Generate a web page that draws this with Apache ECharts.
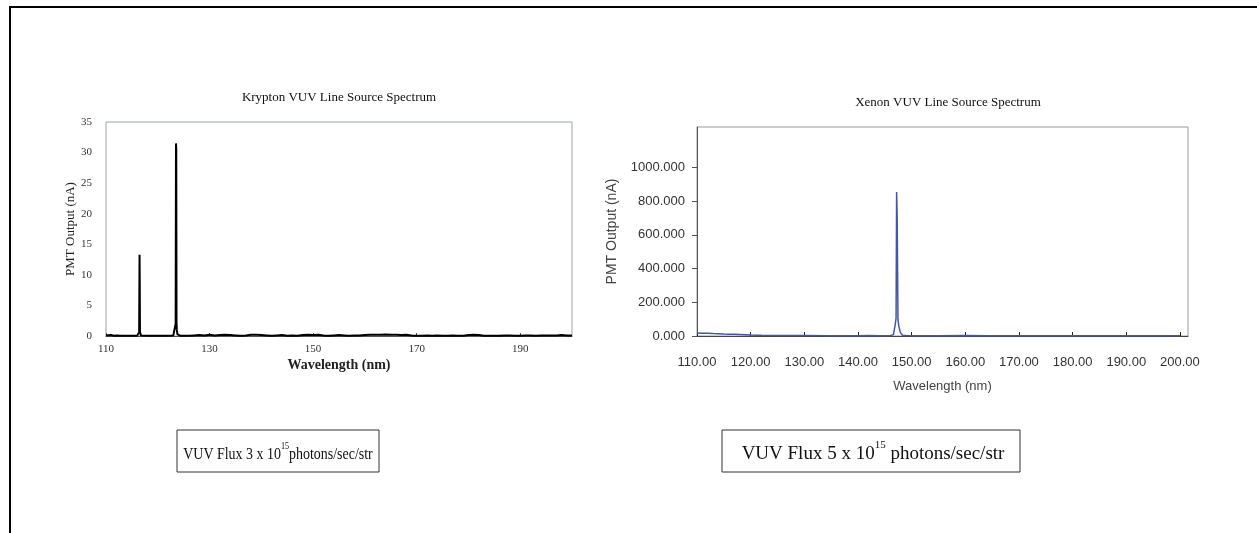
<!DOCTYPE html>
<html>
<head>
<meta charset="utf-8">
<script src="https://cdn.jsdelivr.net/npm/echarts@6/dist/echarts.min.js"></script>
<style>html,body{margin:0;padding:0;background:#fff}#c{width:1257px;height:533px}</style>
</head>
<body>
<div id="c"></div>
<script>
// Krypton spectrum (nm, nA)
const krWavelength = [110,111,111.5,112,113,114,115,116,116.3,116.4,116.48,116.52,116.56,116.62,116.75,117,118,119,120,121,122,123,123.35,123.45,123.52,123.57,123.62,123.68,123.78,123.95,124.3,125,126,127,128,129,130,131,132,133,134,135,136,137,138,139,140,141,142,143,144,145,146,147,148,149,150,151,152,153,154,155,156,157,158,159,160,161,162,163,164,165,166,167,168,169,170,171,172,173,174,175,176,177,178,179,180,181,182,183,184,185,186,187,188,189,190,191,192,193,194,195,196,197,198,199,200];
const krValues     = [0.1,0.15,0.05,0.1,0.05,0.05,0.05,0.05,0.2,0.6,13.3,8.5,0.7,0.4,0.1,0.05,0.05,0.05,0.05,0.05,0.05,0.1,0.3,2.0,31.5,30.5,2.2,1.0,0.3,0.1,0.05,0.05,0.05,0.1,0.15,0.1,0.2,0.1,0.15,0.2,0.15,0.1,0.05,0.1,0.2,0.2,0.15,0.1,0.05,0.1,0.15,0.05,0.1,0.05,0.15,0.2,0.15,0.2,0.1,0.05,0.1,0.15,0.1,0.05,0.1,0.1,0.15,0.2,0.2,0.2,0.25,0.2,0.2,0.15,0.2,0.1,0.05,0.05,0.1,0.05,0.1,0.05,0.05,0.1,0.05,0.05,0.15,0.2,0.15,0.05,0.05,0.05,0.05,0.1,0.1,0.05,0.05,0.1,0.1,0.05,0.1,0.1,0.1,0.1,0.15,0.1,0.1];
// Xenon spectrum (nm, nA)
const xeWavelength = [110,111,112,113,114,115,116,117,118,119,120,121,122,125,130,135,140,142,144,146,146.6,146.9,147.1,147.2,147.3,147.45,147.6,147.9,148.3,149,150,155,160,165,170,175,180,185,190,195,200];
const xeValues     = [18,17,17,15,14,12,11,10,9,8,6,5,4,3,3,2,2,3,2,2,8,60,106,854,716,100,60,20,5,3,2,2,3,2,2,2,2,2,2,2,2];
const krTicksX = [110,130,150,170,190];
const xeTicksX = [110,120,130,140,150,160,170,180,190,200];
const xeTicksY = [0,200,400,600,800,1000];

const krData = krWavelength.map((w,i)=>[w,krValues[i]]);
const xeData = xeWavelength.map((w,i)=>[w,xeValues[i]]);

const serif = "'Liberation Serif','DejaVu Serif',serif";
const sans = "'Liberation Sans',Arial,sans-serif";

const chart = echarts.init(document.getElementById('c'), null, {renderer:'canvas'});
chart.setOption({
  animation:false,
  backgroundColor:'#fff',
  title:[
    {text:'Krypton VUV Line Source Spectrum', left:334, top:86, textAlign:'center',
     textStyle:{fontFamily:serif, fontSize:13, fontWeight:'normal', color:'#111'}},
    {text:'Xenon VUV Line Source Spectrum', left:943, top:91, textAlign:'center',
     textStyle:{fontFamily:serif, fontSize:13, fontWeight:'normal', color:'#111'}}
  ],
  grid:[
    {left:106, top:122, width:466, height:214, show:true, borderColor:'#9aa4ae', borderWidth:1, containLabel:false},
    {left:697, top:127, width:491, height:209, show:true, borderColor:'#9a9a9a', borderWidth:1, containLabel:false}
  ],
  xAxis:[
    {type:'value', gridIndex:0, min:110, max:200,
     name:'Wavelength (nm)', nameLocation:'middle', nameGap:22,
     nameTextStyle:{fontFamily:serif, fontSize:14, fontWeight:'bold', color:'#222'},
     axisLine:{show:true, lineStyle:{color:'#555', width:1}},
     axisTick:{show:true, inside:true, length:3, customValues:krTicksX, lineStyle:{color:'#555'}},
     axisLabel:{customValues:krTicksX, fontFamily:serif, fontSize:11, color:'#333', margin:8},
     splitLine:{show:false}},
    {type:'value', gridIndex:1, min:110, max:201.5,
     name:'Wavelength (nm)', nameLocation:'middle', nameGap:44,
     nameTextStyle:{fontFamily:sans, fontSize:13, color:'#444'},
     axisLine:{show:true, lineStyle:{color:'#444', width:1}},
     axisTick:{show:true, inside:true, length:4, customValues:xeTicksX, lineStyle:{color:'#222'}},
     axisLabel:{customValues:xeTicksX, fontFamily:sans, fontSize:13, color:'#333', margin:20,
                formatter:v=>v.toFixed(2)},
     splitLine:{show:false}}
  ],
  yAxis:[
    {type:'value', gridIndex:0, min:0, max:35, interval:5,
     name:'PMT Output (nA)', nameLocation:'middle', nameGap:26,
     nameTextStyle:{fontFamily:serif, fontSize:13, color:'#222'},
     axisLine:{show:false}, axisTick:{show:false},
     axisLabel:{fontFamily:serif, fontSize:11, color:'#333', margin:14},
     splitLine:{show:false}},
    {type:'value', gridIndex:1, min:0, max:1240,
     name:'PMT Output (nA)', nameLocation:'middle', nameGap:78,
     nameTextStyle:{fontFamily:sans, fontSize:14, color:'#444'},
     axisLine:{show:true, lineStyle:{color:'#555', width:1}},
     axisTick:{show:true, inside:false, length:5, customValues:xeTicksY, lineStyle:{color:'#555'}},
     axisLabel:{customValues:xeTicksY, fontFamily:sans, fontSize:13, color:'#333', margin:12,
                formatter:v=>v.toFixed(3)},
     splitLine:{show:false}}
  ],
  series:[
    {type:'line', xAxisIndex:0, yAxisIndex:0, data:krData, showSymbol:false,
     lineStyle:{color:'#000', width:2}, silent:true},
    {type:'line', xAxisIndex:1, yAxisIndex:1, data:xeData, showSymbol:false,
     lineStyle:{color:'#4656a6', width:1.5}, silent:true}
  ],
  graphic:[
    {type:'line', shape:{x1:10, y1:6, x2:10, y2:533}, style:{stroke:'#000', lineWidth:2}},
    {type:'line', shape:{x1:9, y1:7, x2:1257, y2:7}, style:{stroke:'#000', lineWidth:2}},
    {type:'rect', shape:{x:177, y:430, width:202, height:42}, style:{fill:'#fff', stroke:'#333', lineWidth:1}},
    {type:'text', x:278, y:452, scaleX:0.82, style:{
      text:'{n|VUV Flux 3 x 10}{s|15}{n|photons/sec/str}', align:'center', verticalAlign:'middle',
      rich:{n:{fontFamily:serif, fontSize:17, fill:'#111', lineHeight:22, verticalAlign:'bottom'},
            s:{fontFamily:serif, fontSize:10, fill:'#111', lineHeight:22, verticalAlign:'top'}}}},
    {type:'rect', shape:{x:722, y:430, width:298, height:42}, style:{fill:'#fff', stroke:'#333', lineWidth:1}},
    {type:'text', x:873, y:452, style:{
      text:'{n|VUV Flux 5 x 10}{s|15}{n| photons/sec/str}', align:'center', verticalAlign:'middle',
      rich:{n:{fontFamily:serif, fontSize:19, fill:'#111', lineHeight:24, verticalAlign:'bottom'},
            s:{fontFamily:serif, fontSize:11, fill:'#111', lineHeight:24, verticalAlign:'top'}}}}
  ]
});
</script>
</body>
</html>
